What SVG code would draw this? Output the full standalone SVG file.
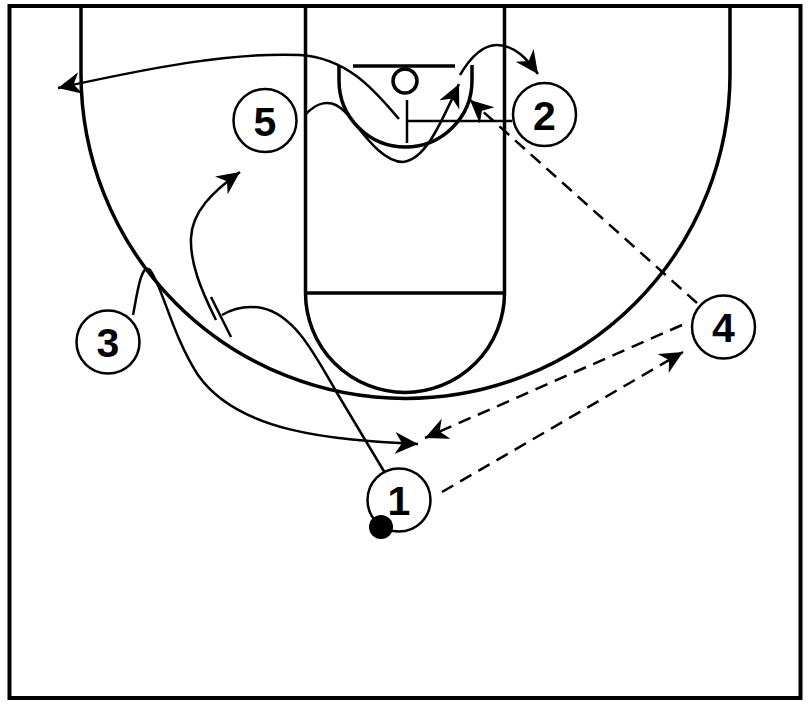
<svg xmlns="http://www.w3.org/2000/svg" width="808" height="704" viewBox="0 0 808 704">
<defs>
<style>
.court{fill:none;stroke:#000;stroke-width:3.5}
.mv{fill:none;stroke:#000;stroke-width:2.5;marker-end:url(#arr)}
.ln{fill:none;stroke:#000;stroke-width:2.5}
.ps{fill:none;stroke:#000;stroke-width:2.5;stroke-dasharray:13 8;marker-end:url(#arr)}
.pl{fill:#fff;stroke:#000;stroke-width:2.5}
.num{font-family:"Liberation Sans",Arial,sans-serif;font-weight:bold;font-size:41px;text-anchor:middle;fill:#000}
</style>
<marker id="arr" markerUnits="userSpaceOnUse" markerWidth="26" markerHeight="24" refX="23" refY="11" orient="auto" viewBox="0 0 26 24">
<path d="M0,0 L23,11 L0,22 L7,11 Z" fill="#000" stroke="none"/>
</marker>
</defs>
<rect width="808" height="704" fill="#fff"/>
<g id="court">
<rect x="9.5" y="6" width="791" height="692" fill="none" stroke="#000" stroke-width="4"/>
<path class="court" d="M81,6 L81,74 A324.5,324.5 0 0 0 730,74 L730,6"/>
<path class="court" d="M305.5,6 L305.5,293 M504.5,6 L504.5,293 M305.5,293 L504.5,293"/>
<path class="court" d="M305.5,293 A99.5,99.5 0 0 0 504.5,293"/>
<path class="court" d="M339,65 L339,80.5 A66.5,66.5 0 0 0 472,80.5 L472,65"/>
<path class="court" d="M353,66 L455,66"/>
<circle class="court" cx="405" cy="81" r="12"/>
</g>
<g id="connectors">
<path class="mv" d="M305,115 C315,104 330,96 345,112 C360,128 380,162 403,162 C425,160 440,125 459,84"/>
<path class="mv" d="M460,75 C470,58 483,45 497,45 C515,45 528,60 538,74"/>
<path class="mv" d="M399,119 C378,95 350,58 300,55 C230,52 150,68 58,88"/>
<path class="ps" d="M697,303 L470,100"/>
<path class="ps" d="M682,325 L425,438"/>
<path class="ps" d="M442,492 L683,352"/>
<path class="mv" d="M133,315 C137,295 141,262 150,270 C162,285 172,335 198,375 C238,432 330,440 418,444"/>
<path class="mv" d="M216,320 C200,288 190,262 191,238 C192,212 212,192 240,172"/>
<path class="ln" d="M385,473 L337,393 C315,355 295,315 262,308 C245,305 232,309 222,315"/>
<path class="ln" d="M211,297 L231,337"/>
<path class="ln" d="M512,121 L407,121 M407,100 L407,143"/>
</g>
<g id="p5"><circle class="pl" cx="265" cy="120.5" r="31.5"/><text class="num" x="265" y="135.5">5</text></g>
<g id="p2"><circle class="pl" cx="544.5" cy="114.5" r="31.5"/><text class="num" x="544.5" y="129.5">2</text></g>
<g id="p3"><circle class="pl" cx="108" cy="342" r="31.5"/><text class="num" x="108" y="357">3</text></g>
<g id="p4"><circle class="pl" cx="723.5" cy="327" r="31.5"/><text class="num" x="723.5" y="342">4</text></g>
<g id="p1"><circle class="pl" cx="399" cy="500" r="31.5"/><text class="num" x="399" y="515">1</text><circle cx="381" cy="527" r="12" fill="#000"/></g>
</svg>
